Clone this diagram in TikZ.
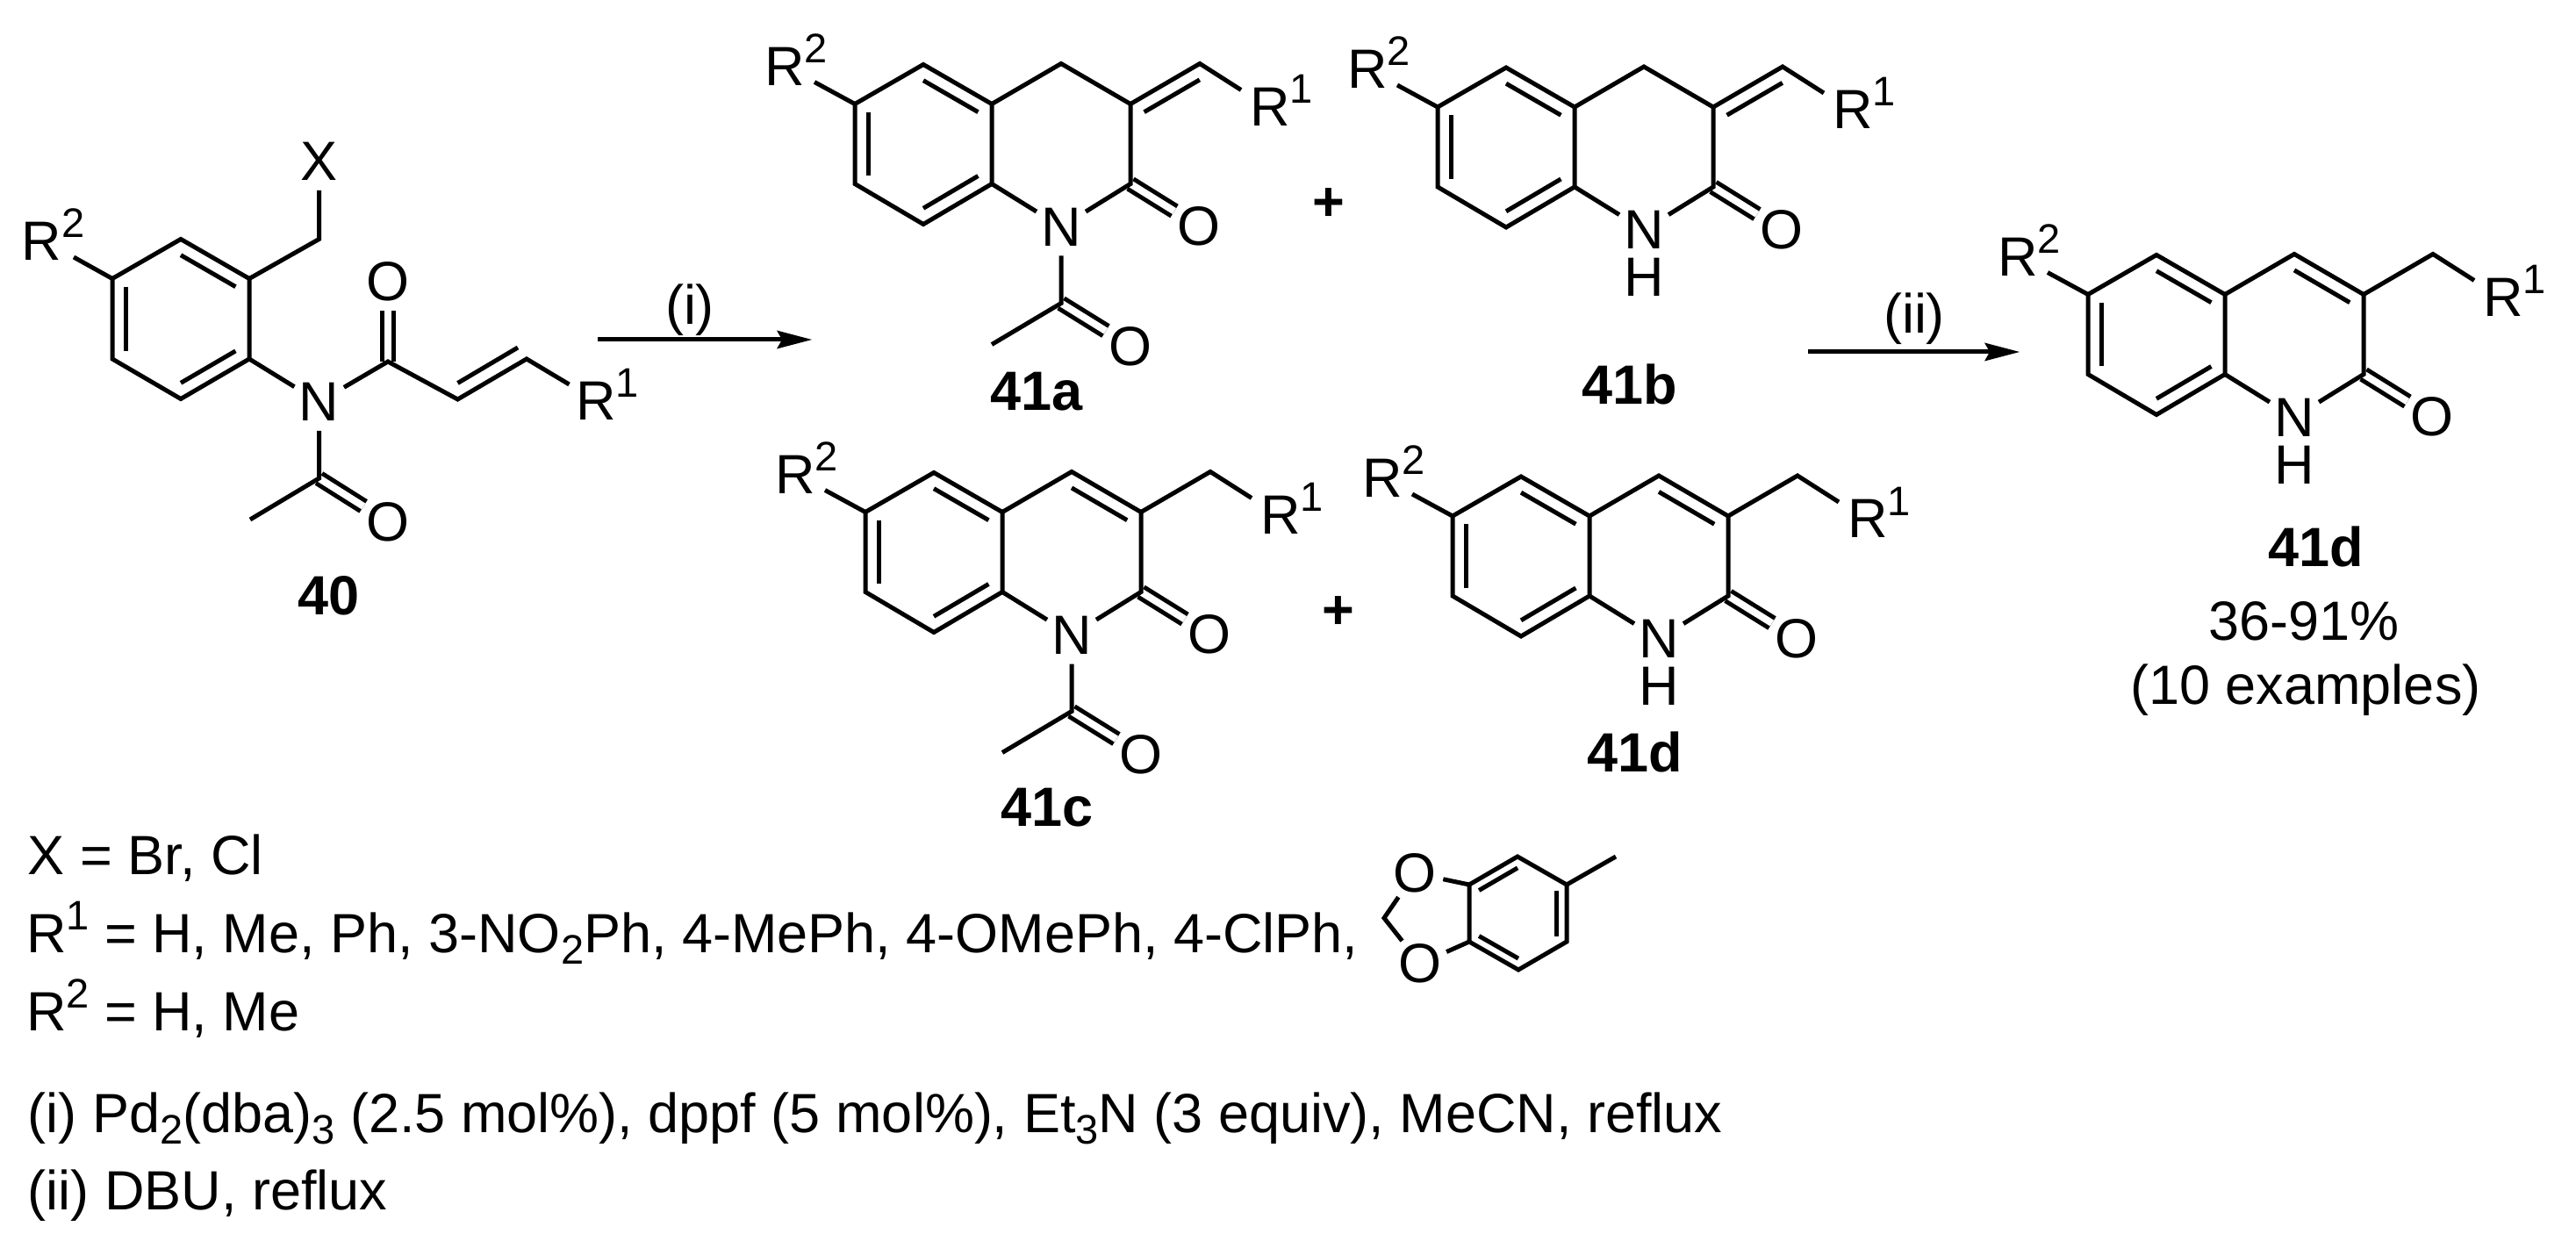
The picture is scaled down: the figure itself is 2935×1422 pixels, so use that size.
\documentclass[tikz,border=0pt]{standalone}
\usepackage{fontspec}
\setmainfont{Liberation Sans}
\usetikzlibrary{calc,arrows.meta}
\tikzset{
  atom/.style={circle,inner sep=0pt,outer sep=0pt,minimum size=33pt,font=\fontsize{31.5}{36}\selectfont},
  lab/.style={inner sep=0pt,outer sep=0pt,font=\fontsize{31.5}{36}\selectfont},
  bold/.style={lab,font=\fontsize{31.5}{36}\selectfont\bfseries},
  dbl/.style={double,double distance=4pt},
  rxn/.style={-{Stealth[length=20pt,width=10.5pt,inset=3pt,line width=0pt]}}
}
\newcommand\sups[1]{\raisebox{13pt}{\fontsize{23.5}{27}\selectfont #1}}
\newcommand\subs[1]{\raisebox{-6.5pt}{\fontsize{23.5}{27}\selectfont #1}}
\newcommand\inb[3]{\draw ($(#1)!0.2!(#3)$) -- ($(#2)!0.2!(#3)$);}
% #1 prefix, #2 #3 centre of benzene ring, #4 E exocyclic / X endocyclic, #5 A acetyl / H NH
\newcommand\quin[5]{%
\begin{scope}[shift={(#2,#3)}]
  \coordinate (#1a1) at (0,-91);
  \coordinate (#1a2) at (78,-46);
  \coordinate (#1a3) at (78,45);
  \coordinate (#1a4) at (0,91);
  \coordinate (#1a5) at (-78,45);
  \coordinate (#1a6) at (-78,-46);
  \coordinate (#1ca) at (0,0);
  \coordinate (#1cb) at (157,0);
  \coordinate (#1cc) at (314,0);
  \coordinate (#1top) at (157,-92);
  \coordinate (#1three) at (236,-46);
  \coordinate (#1two) at (236,45);
  \coordinate (#1sub) at (315,-92);
  \coordinate (#1rone) at (362,-62);
  \coordinate (#1rtwo) at (-124,-71);
  \node[atom] (#1N) at (157,94) {N};
  \node[atom] (#1O) at (314,93.5) {O};
  \node[lab,anchor=base west] (#1Rb) at (-181,-67) {R\sups{2}};
  \node[lab,anchor=base west] (#1Ra) at (372,-21) {R\sups{1}};
  \if#5A
    \coordinate (#1ac) at (157,181);
    \coordinate (#1me) at (78,228);
    \node[atom] (#1Oac) at (236,230) {O};
  \else
    \node[lab] (#1H) at (157,148) {H};
  \fi
\end{scope}
\draw[dbl] (#1two) -- (#1O);
\if#5A
  \draw[dbl] (#1ac) -- (#1Oac);
  \draw (#1N) -- (#1ac) -- (#1me);
\fi
\draw (#1a1) -- (#1a2) -- (#1a3) -- (#1a4) -- (#1a5) -- (#1a6) -- cycle;
\draw (#1a2) -- (#1top) -- (#1three) -- (#1two) -- (#1N) -- (#1a3);
\draw (#1three) -- (#1sub) -- (#1rone);
\draw (#1a6) -- (#1rtwo);
\inb{#1a6}{#1a5}{#1ca}
\inb{#1a1}{#1a2}{#1ca}
\inb{#1a4}{#1a3}{#1ca}
\if#4E
  \inb{#1three}{#1sub}{#1cc}
\else
  \inb{#1top}{#1three}{#1cb}
\fi
}
\begin{document}
\begin{tikzpicture}[x=0.5pt,y=-0.5pt,line width=2.5pt]
\fill[white] (0,0) rectangle (2935,1422);
\useasboundingbox (0,0) rectangle (2935,1422);

% compound 40
\coordinate (pa1) at (206,272.5);
\coordinate (pa2) at (284,317.5);
\coordinate (pa3) at (284,409);
\coordinate (pa4) at (206,454.5);
\coordinate (pa5) at (128,409);
\coordinate (pa6) at (128,317.5);
\coordinate (pca) at (206,363.5);
\coordinate (pch) at (363.5,272.5);
\coordinate (pco) at (442,412);
\coordinate (pv1) at (521.5,455);
\coordinate (pv2) at (600,409);
\coordinate (pv1i) at (521.5,436.5);
\coordinate (pv2i) at (590,396);
\coordinate (prone) at (648.5,438);
\coordinate (prtwo) at (84,293);
\coordinate (pac) at (363.5,545);
\coordinate (pme) at (285,592);
\node[atom] (pX) at (363.5,184) {X};
\node[atom] (pN) at (363.5,458) {N};
\node[atom] (pO) at (442,321) {O};
\node[atom] (pOac) at (442,594.5) {O};
\node[lab,anchor=base west] (pRb) at (25,297) {R\sups{2}};
\node[lab,anchor=base west] (pRa) at (656,479) {R\sups{1}};
\node[bold,anchor=base] (l40) at (375,701) {40};
\draw[dbl] (pco) -- (pO);
\draw[dbl] (pac) -- (pOac);
\draw (pa1) -- (pa2) -- (pa3) -- (pa4) -- (pa5) -- (pa6) -- cycle;
\draw (pa6) -- (prtwo);
\draw (pa2) -- (pch) -- (pX);
\draw (pa3) -- (pN) -- (pco) -- (pv1) -- (pv2) -- (prone);
\draw (pv1i) -- (pv2i);
\draw (pN) -- (pac) -- (pme);
\inb{pa6}{pa5}{pca}
\inb{pa1}{pa2}{pca}
\inb{pa4}{pa3}{pca}

% products
\quin{A}{1052}{164.5}{E}{A}
\quin{B}{1716}{168}{E}{H}
\quin{C}{1064}{629.5}{X}{A}
\quin{D}{1733}{634}{X}{H}
\quin{F}{2457}{381.5}{X}{H}

\node[bold,anchor=base] (l41a) at (1181,468) {41a};
\node[bold,anchor=base] (l41b) at (1857,461) {41b};
\node[bold,anchor=base] (l41c) at (1193,941) {41c};
\node[bold,anchor=base] (l41d) at (1863,879) {41d};
\node[bold,anchor=base] (l41e) at (2639,646) {41d};
\node[lab,anchor=base] (yield) at (2625,730) {36-91\%};
\node[lab,anchor=base] (examples) at (2627,802) {(10 examples)};
\node[bold] (plusa) at (1514,233) {+};
\node[bold] (plusb) at (1525,698) {+};

% arrows
\coordinate (ar1s) at (681,387);
\coordinate (ar1e) at (925,387);
\coordinate (ar2s) at (2060,401);
\coordinate (ar2e) at (2301,401);
\draw[rxn] (ar1s) -- (ar1e);
\draw[rxn] (ar2s) -- (ar2e);
\node[lab,anchor=base] (ti) at (786,370) {(i)};
\node[lab,anchor=base] (tii) at (2181,380) {(ii)};

% legend
\node[lab,anchor=base west] (legx) at (32,996) {X = Br, Cl};
\node[lab,anchor=base west] (legr) at (30,1085) {R\sups{1} = H, Me, Ph, 3-NO\subs{2}Ph, 4-MePh, 4-OMePh, 4-ClPh,};
\node[lab,anchor=base west] (legs) at (30,1174) {R\sups{2} = H, Me};
\node[lab,anchor=base west] (legi) at (32,1290) {(i) Pd\subs{2}(dba)\subs{3} (2.5 mol\%), dppf (5 mol\%), Et\subs{3}N (3 equiv), MeCN, reflux};
\node[lab,anchor=base west] (legii) at (32,1378) {(ii) DBU, reflux};

% benzodioxole
\coordinate (ga1) at (1729,976);
\coordinate (ga2) at (1785,1008);
\coordinate (ga3) at (1785,1073);
\coordinate (ga4) at (1730,1105);
\coordinate (ga5) at (1674,1073);
\coordinate (ga6) at (1674,1008);
\coordinate (gca) at (1729.5,1040.5);
\coordinate (gme) at (1841,976);
\coordinate (gch) at (1577,1046);
\node[atom] (gO1) at (1612,995) {O};
\node[atom] (gO2) at (1618,1098) {O};
\draw (ga1) -- (ga2) -- (ga3) -- (ga4) -- (ga5) -- (ga6) -- cycle;
\draw (ga2) -- (gme);
\draw (ga6) -- (gO1) -- (gch) -- (gO2) -- (ga5);
\inb{ga6}{ga1}{gca}
\inb{ga2}{ga3}{gca}
\inb{ga4}{ga5}{gca}
\end{tikzpicture}
\end{document}
